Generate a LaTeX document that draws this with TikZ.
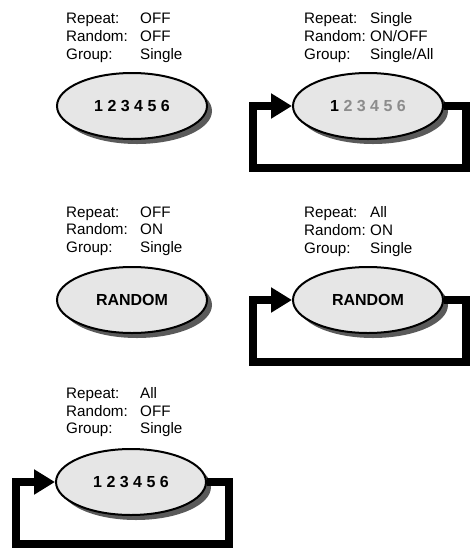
\documentclass[tikz,border=0pt]{standalone}
\usepackage{fontspec}
\setmainfont{Liberation Sans}
\usetikzlibrary{arrows.meta,shapes.geometric,shadows}
\definecolor{modefill}{RGB}{230,230,230}
\definecolor{modeshade}{RGB}{90,90,90}
\definecolor{trackgray}{RGB}{140,140,140}
\newcommand{\modesettings}[4]{%
  \makebox[#1][l]{Repeat:}#2\\\makebox[#1][l]{Random:}#3\\\makebox[#1][l]{Group:}#4}
\tikzset{
  modeinfo/.style={anchor=north west, inner sep=0pt, align=left,
                   font=\fontsize{15.2}{17.8}\selectfont},
  mode/.style={ellipse, draw=black, fill=modefill, line width=2pt,
               minimum width=150pt, minimum height=66pt, inner sep=0pt,
               font=\fontsize{16}{16}\selectfont\bfseries,
               drop shadow={shadow xshift=5pt, shadow yshift=-5pt,
                            fill=modeshade, opacity=1}},
  repeatloop/.style={line width=8pt, line join=miter,
                     -{Triangle[length=21pt,width=24pt]}},
}
\begin{document}
\begin{tikzpicture}[x=1pt,y=-1pt]
  \useasboundingbox (0,0) rectangle (470,550);
  % settings of each play mode
  \node[modeinfo] (s1) at (66,12.6)  {\modesettings{74pt}{OFF}{OFF}{Single}};
  \node[modeinfo] (s2) at (304,12.6) {\modesettings{66pt}{Single}{ON/OFF}{Single/All}};
  \node[modeinfo] (s3) at (66,206.2) {\modesettings{74pt}{OFF}{ON}{Single}};
  \node[modeinfo] (s4) at (304,206.2) {\modesettings{66pt}{All}{ON}{Single}};
  \node[modeinfo] (s5) at (66,387)   {\modesettings{74pt}{All}{OFF}{Single}};
  % play modes
  \node[mode] (e1) at (132,106) {1 2 3 4 5 6};
  \node[mode] (e2) at (368,106) {1 \textcolor{trackgray}{2 3 4 5 6}};
  \node[mode] (e3) at (132,300) {RANDOM};
  \node[mode] (e4) at (368,300) {RANDOM};
  \node[mode] (e5) at (131,482) {1 2 3 4 5 6};
  % repeat loops
  \foreach \m in {e2,e4,e5}
    \draw[repeatloop] (\m.east) -- ++(22,0) -- ++(0,62) -- ++(-213,0)
      -- ++(0,-62) -- (\m.west);
\end{tikzpicture}
\end{document}
